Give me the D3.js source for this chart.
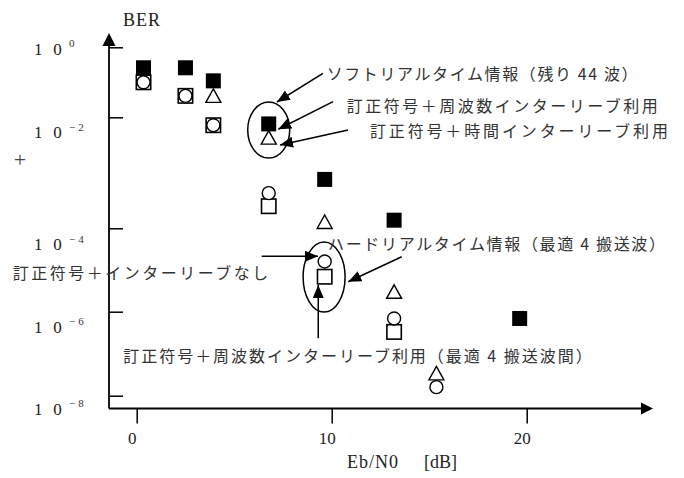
<!DOCTYPE html>
<html><head><meta charset="utf-8">
<script src="https://cdn.jsdelivr.net/npm/d3@7"></script>
<style>
html,body{margin:0;padding:0;background:#fff;}
svg{display:block;}
text.jp{font-family:"Noto Sans CJK JP","Noto Sans CJK SC",sans-serif;font-size:16px;fill:#333;}
</style></head><body>
<svg id="c" width="684" height="478"></svg>
<script>
// ---- data ----
const xTickValues = [0, 10, 20];
const yTickValues = [1, 1e-2, 1e-4, 1e-6, 1e-8];
const yTickSup = ["0", "−2", "−4", "−6", "−8"];

// ソフトリアルタイム情報（残り44波） 訂正符号＋周波数インターリーブ利用 (filled squares)
const softFreqX = [0.35, 2.5, 3.93, 6.77, 9.64, 13.2, 19.64];
const softFreqBER = [2.6e-1, 2.6e-1, 1.1e-1, 7.6e-3, 7.6e-4, 1.4e-4, 6.9e-7];
// 訂正符号＋時間インターリーブ利用 (open triangles)
const timeX = [3.93, 6.77, 9.64, 13.2, 15.37];
const timeBER = [4.1e-2, 4.3e-3, 1.3e-4, 3.0e-6, 3.4e-8];
// 訂正符号＋インターリーブなし (open circles)
const noIlvX = [0.35, 2.5, 3.93, 6.77, 9.64, 13.2, 15.37];
const noIlvBER = [1.0e-1, 4.1e-2, 7.2e-3, 4.3e-4, 1.6e-5, 6.9e-7, 1.6e-8];
// 訂正符号＋周波数インターリーブ利用（最適4搬送波間） (open squares)
const hardFreqX = [0.35, 2.5, 3.93, 6.77, 9.64, 13.2];
const hardFreqBER = [1.0e-1, 4.1e-2, 7.2e-3, 2.5e-4, 6.9e-6, 3.3e-7];

const annoTexts = [
  "ソフトリアルタイム情報（残り 44 波）",
  "訂正符号＋周波数インターリーブ利用",
  "訂正符号＋時間インターリーブ利用",
  "ハードリアルタイム情報（最適 4 搬送波）",
  "訂正符号＋インターリーブなし",
  "訂正符号＋周波数インターリーブ利用（最適 4 搬送波間）"
];

// ---- layout ----
const SERIF = "'Liberation Serif','DejaVu Serif',serif";
const svg = d3.select("#c");
const x = d3.scaleLinear().domain([0, 20]).range([136.7, 526.7]);
// hand-drawn axis: decades are not evenly spaced -> piecewise log scale
const y = d3.scaleLog().domain(yTickValues).range([47.3, 117.3, 228.3, 311.7, 395.7]);
const yLab = d3.scaleLog().domain(yTickValues).range([54.5, 138.2, 250.2, 332.5, 414.5]);
const E = e => y(Math.pow(10, e));
const axX = 109, axY = 408.5;

// axes lines + arrows
svg.append("line").attr("x1", axX).attr("y1", axY).attr("x2", axX).attr("y2", 45)
  .attr("stroke", "#000").attr("stroke-width", 1.8);
svg.append("path").attr("d", `M${axX},33 L${axX-6.5},46 L${axX+6.5},46 Z`).attr("fill", "#000");
svg.append("line").attr("x1", axX).attr("y1", axY).attr("x2", 642).attr("y2", axY)
  .attr("stroke", "#000").attr("stroke-width", 1.8);
svg.append("path").attr("d", `M653,${axY} L641,${axY-6} L641,${axY+6} Z`).attr("fill", "#000");

// y ticks
const gy = svg.append("g").attr("transform", `translate(${axX},0)`)
  .call(d3.axisRight(y).tickValues(yTickValues).tickSize(14).tickFormat(""));
gy.select(".domain").remove();
gy.selectAll("line").attr("stroke", "#000").attr("stroke-width", 1.5);

// y tick labels 1 0^exp
const serText = (sel) => sel.style("font-family", SERIF).attr("fill", "#222");
yTickValues.forEach((v, i) => {
  serText(svg.append("text")).attr("font-size", 17).attr("y", yLab(v))
    .attr("x", 38.3).attr("text-anchor", "middle").text("1");
  serText(svg.append("text")).attr("font-size", 17).attr("y", yLab(v))
    .attr("x", 57.5).attr("text-anchor", "middle").text("0");
  serText(svg.append("text")).attr("font-size", 11).attr("x", 69)
    .attr("y", yLab(v) - 7.5).attr("letter-spacing", i === 0 ? 0 : 3).attr("fill", "#333")
    .text(yTickSup[i]);
});

// x ticks
const gx = svg.append("g").attr("transform", `translate(0,${axY})`)
  .call(d3.axisBottom(x).tickValues(xTickValues).tickSize(15).tickFormat(d3.format("d")));
gx.select(".domain").remove();
gx.selectAll("line").attr("stroke", "#000").attr("stroke-width", 1.5);
gx.selectAll("text").style("font-family", SERIF).attr("font-size", 17).attr("fill", "#222")
  .attr("dy", null).attr("y", 35.5).attr("dx", -5);

// axis titles
serText(svg.append("text")).attr("font-size", 18).attr("letter-spacing", 1)
  .attr("x", 123).attr("y", 26).text("BER");
serText(svg.append("text")).attr("font-size", 18).attr("letter-spacing", 1)
  .attr("x", 347).attr("y", 468).text("Eb/N0");
serText(svg.append("text")).attr("font-size", 18)
  .attr("x", 424).attr("y", 468).text("[dB]");
serText(svg.append("text")).attr("font-size", 22).attr("fill", "#444")
  .attr("x", 20).attr("y", 167).attr("text-anchor", "middle").text("+");

// ellipses (annotation groups)
const ellipses = [
  {cx: 6.77, ce: -2.23, rx: 21, ry: 28},
  {cx: 9.61, ce: -5.17, rx: 21, ry: 35}
];
svg.selectAll("ellipse.grp").data(ellipses).join("ellipse").attr("class", "grp")
  .attr("cx", d => x(d.cx)).attr("cy", d => E(d.ce)).attr("rx", d => d.rx).attr("ry", d => d.ry)
  .attr("fill", "none").attr("stroke", "#000").attr("stroke-width", 1.5);

// markers
const pts = (xs, ys) => xs.map((v, i) => ({x: v, y: ys[i]}));
const sq = 7.2;
svg.append("g").selectAll("rect").data(pts(hardFreqX, hardFreqBER)).join("rect")
  .attr("x", d => x(d.x) - sq).attr("y", d => y(d.y) - sq).attr("width", 2 * sq).attr("height", 2 * sq)
  .attr("fill", "#fff").attr("stroke", "#000").attr("stroke-width", 1.6);
svg.append("g").selectAll("circle").data(pts(noIlvX, noIlvBER)).join("circle")
  .attr("cx", d => x(d.x)).attr("cy", d => y(d.y)).attr("r", 6.5)
  .attr("fill", "#fff").attr("stroke", "#000").attr("stroke-width", 1.4);
svg.append("g").selectAll("path").data(pts(timeX, timeBER)).join("path")
  .attr("d", d => { const cx = x(d.x), cy = y(d.y); return `M${cx},${cy-7} L${cx+7.5},${cy+6.5} L${cx-7.5},${cy+6.5} Z`; })
  .attr("fill", "#fff").attr("stroke", "#000").attr("stroke-width", 1.4);
svg.append("g").selectAll("rect").data(pts(softFreqX, softFreqBER)).join("rect")
  .attr("x", d => x(d.x) - 7.5).attr("y", d => y(d.y) - 7.5).attr("width", 15).attr("height", 15)
  .attr("fill", "#000");

// annotations (positions in data space: dB, log10 BER)
svg.append("defs").append("marker").attr("id", "ah").attr("markerUnits", "userSpaceOnUse")
  .attr("markerWidth", 14).attr("markerHeight", 12).attr("refX", 13).attr("refY", 5.5)
  .attr("orient", "auto").append("path").attr("d", "M0,0 L13,5.5 L0,11 Z").attr("fill", "#000");

const annos = [
  {tx: 9.74, te: -0.743, w: 311, a: [9.55, -0.743, 7.19, -1.563]},
  {tx: 10.77, te: -1.649, w: 311, a: [10.07, -1.554, 7.26, -2.216]},
  {tx: 11.96, te: -2.229, w: 298, a: [10.84, -2.229, 7.35, -2.499]},
  {tx: 9.81, te: -4.36, w: 337, a: [13.59, -4.681, 10.85, -5.281]},
  {tx: -6.36, te: -5.041, w: 255.6, a: [6.41, -4.671, 9.30, -4.671]},
  {tx: -0.69, te: -7.031, w: 468.4, a: [9.31, -6.633, 9.31, -5.36]}
];
annos.forEach((d, i) => {
  svg.append("line").attr("x1", x(d.a[0])).attr("y1", E(d.a[1])).attr("x2", x(d.a[2])).attr("y2", E(d.a[3]))
    .attr("stroke", "#000").attr("stroke-width", 1.5).attr("marker-end", "url(#ah)");
  svg.append("text").attr("class", "jp").attr("x", x(d.tx)).attr("y", E(d.te))
    .attr("dominant-baseline", "central").attr("textLength", d.w).attr("lengthAdjust", "spacing")
    .text(annoTexts[i]);
});
</script>
</body></html>
